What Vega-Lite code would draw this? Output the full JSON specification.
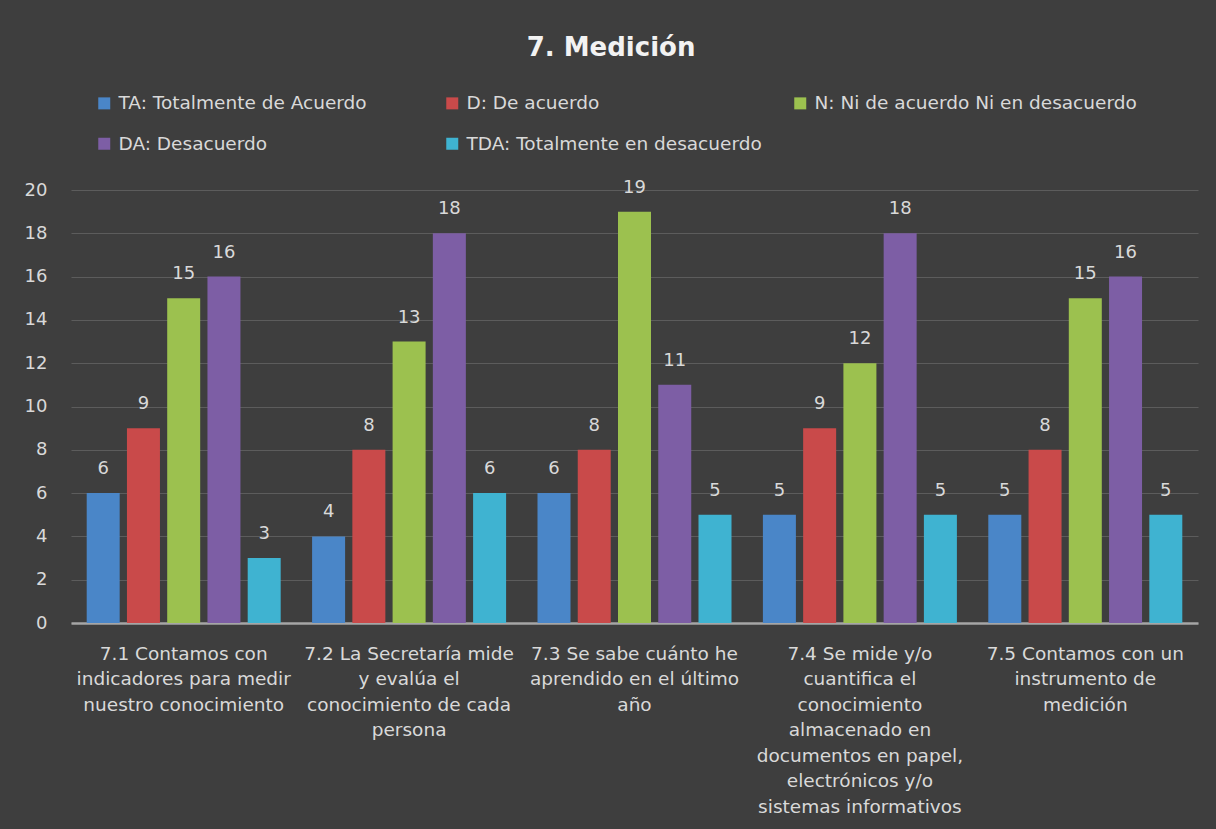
{
  "$schema": "https://vega.github.io/schema/vega-lite/v6.json",
  "width": 1127,
  "height": 433,
  "autosize": {"type": "none"},
  "padding": {"left": 71, "top": 190, "right": 18, "bottom": 206},
  "background": "#3e3e3e",
  "title": {
    "text": "7. Medición",
    "font": "DejaVu Sans",
    "fontSize": 26,
    "fontWeight": "bold",
    "color": "#f2f2f2",
    "anchor": "middle",
    "frame": "bounds",
    "offset": 33
  },
  "data": {
    "values": [
      {"pregunta": "7.1 Contamos con indicadores para medir nuestro conocimiento", "serie": "TA: Totalmente de Acuerdo", "valor": 6},
      {"pregunta": "7.1 Contamos con indicadores para medir nuestro conocimiento", "serie": "D: De acuerdo", "valor": 9},
      {"pregunta": "7.1 Contamos con indicadores para medir nuestro conocimiento", "serie": "N: Ni de acuerdo Ni en desacuerdo", "valor": 15},
      {"pregunta": "7.1 Contamos con indicadores para medir nuestro conocimiento", "serie": "DA: Desacuerdo", "valor": 16},
      {"pregunta": "7.1 Contamos con indicadores para medir nuestro conocimiento", "serie": "TDA: Totalmente en desacuerdo", "valor": 3},
      {"pregunta": "7.2 La Secretaría mide y evalúa el conocimiento de cada persona", "serie": "TA: Totalmente de Acuerdo", "valor": 4},
      {"pregunta": "7.2 La Secretaría mide y evalúa el conocimiento de cada persona", "serie": "D: De acuerdo", "valor": 8},
      {"pregunta": "7.2 La Secretaría mide y evalúa el conocimiento de cada persona", "serie": "N: Ni de acuerdo Ni en desacuerdo", "valor": 13},
      {"pregunta": "7.2 La Secretaría mide y evalúa el conocimiento de cada persona", "serie": "DA: Desacuerdo", "valor": 18},
      {"pregunta": "7.2 La Secretaría mide y evalúa el conocimiento de cada persona", "serie": "TDA: Totalmente en desacuerdo", "valor": 6},
      {"pregunta": "7.3 Se sabe cuánto he aprendido en el último año", "serie": "TA: Totalmente de Acuerdo", "valor": 6},
      {"pregunta": "7.3 Se sabe cuánto he aprendido en el último año", "serie": "D: De acuerdo", "valor": 8},
      {"pregunta": "7.3 Se sabe cuánto he aprendido en el último año", "serie": "N: Ni de acuerdo Ni en desacuerdo", "valor": 19},
      {"pregunta": "7.3 Se sabe cuánto he aprendido en el último año", "serie": "DA: Desacuerdo", "valor": 11},
      {"pregunta": "7.3 Se sabe cuánto he aprendido en el último año", "serie": "TDA: Totalmente en desacuerdo", "valor": 5},
      {"pregunta": "7.4 Se mide y/o cuantifica el conocimiento almacenado en documentos en papel, electrónicos y/o sistemas informativos", "serie": "TA: Totalmente de Acuerdo", "valor": 5},
      {"pregunta": "7.4 Se mide y/o cuantifica el conocimiento almacenado en documentos en papel, electrónicos y/o sistemas informativos", "serie": "D: De acuerdo", "valor": 9},
      {"pregunta": "7.4 Se mide y/o cuantifica el conocimiento almacenado en documentos en papel, electrónicos y/o sistemas informativos", "serie": "N: Ni de acuerdo Ni en desacuerdo", "valor": 12},
      {"pregunta": "7.4 Se mide y/o cuantifica el conocimiento almacenado en documentos en papel, electrónicos y/o sistemas informativos", "serie": "DA: Desacuerdo", "valor": 18},
      {"pregunta": "7.4 Se mide y/o cuantifica el conocimiento almacenado en documentos en papel, electrónicos y/o sistemas informativos", "serie": "TDA: Totalmente en desacuerdo", "valor": 5},
      {"pregunta": "7.5 Contamos con un instrumento de medición", "serie": "TA: Totalmente de Acuerdo", "valor": 5},
      {"pregunta": "7.5 Contamos con un instrumento de medición", "serie": "D: De acuerdo", "valor": 8},
      {"pregunta": "7.5 Contamos con un instrumento de medición", "serie": "N: Ni de acuerdo Ni en desacuerdo", "valor": 15},
      {"pregunta": "7.5 Contamos con un instrumento de medición", "serie": "DA: Desacuerdo", "valor": 16},
      {"pregunta": "7.5 Contamos con un instrumento de medición", "serie": "TDA: Totalmente en desacuerdo", "valor": 5}
    ]
  },
  "encoding": {
    "x": {
      "field": "pregunta",
      "type": "nominal",
      "sort": null,
      "scale": {"paddingInner": 0, "paddingOuter": 0},
      "axis": {
        "title": null,
        "labelAngle": 0,
        "labelFont": "DejaVu Sans",
        "labelFontSize": 18.5,
        "labelColor": "#d9d9d9",
        "labelLineHeight": 25.5,
        "labelPadding": 21,
        "labelLimit": 300,
        "ticks": false,
        "grid": false,
        "domainColor": "#a6a6a6",
        "domainWidth": 2.5,
        "labelExpr": "slice(datum.value,0,3)=='7.1' ? ['7.1 Contamos con','indicadores para medir','nuestro conocimiento'] : slice(datum.value,0,3)=='7.2' ? ['7.2 La Secretaría mide','y evalúa el','conocimiento de cada','persona'] : slice(datum.value,0,3)=='7.3' ? ['7.3 Se sabe cuánto he','aprendido en el último','año'] : slice(datum.value,0,3)=='7.4' ? ['7.4 Se mide y/o','cuantifica el','conocimiento','almacenado en','documentos en papel,','electrónicos y/o','sistemas informativos'] : ['7.5 Contamos con un','instrumento de','medición']"
      }
    },
    "xOffset": {
      "field": "serie",
      "type": "nominal",
      "sort": ["TA: Totalmente de Acuerdo", "D: De acuerdo", "N: Ni de acuerdo Ni en desacuerdo", "DA: Desacuerdo", "TDA: Totalmente en desacuerdo"],
      "scale": {"paddingInner": 0.18, "paddingOuter": 0.39}
    },
    "y": {
      "field": "valor",
      "type": "quantitative",
      "scale": {"domain": [0, 20], "nice": false},
      "axis": {
        "title": null,
        "values": [0, 2, 4, 6, 8, 10, 12, 14, 16, 18, 20],
        "grid": true,
        "gridColor": "#5c5c5c",
        "gridWidth": 1,
        "domain": false,
        "ticks": false,
        "labelFont": "DejaVu Sans",
        "labelFontSize": 18,
        "labelColor": "#d9d9d9",
        "labelPadding": 24
      }
    },
    "color": {
      "field": "serie",
      "type": "nominal",
      "sort": ["TA: Totalmente de Acuerdo", "D: De acuerdo", "N: Ni de acuerdo Ni en desacuerdo", "DA: Desacuerdo", "TDA: Totalmente en desacuerdo"],
      "scale": {"range": ["#4a86c8", "#c94a4a", "#9cc14f", "#7d5ea5", "#3fb3d1"]},
      "legend": {
        "title": null,
        "orient": "none",
        "legendX": 24,
        "legendY": -96,
        "direction": "horizontal",
        "columns": 3,
        "gridAlign": "all",
        "columnPadding": 2,
        "rowPadding": 21.5,
        "padding": 0,
        "symbolType": "square",
        "symbolSize": 144,
        "symbolStrokeWidth": 0,
        "labelFont": "DejaVu Sans",
        "labelFontSize": 18.5,
        "labelColor": "#d9d9d9",
        "labelOffset": 5,
        "labelLimit": 400
      }
    }
  },
  "layer": [
    {"mark": {"type": "bar"}},
    {
      "mark": {"type": "text", "baseline": "alphabetic", "dy": -19, "font": "DejaVu Sans", "fontSize": 18, "color": "#d9d9d9"},
      "encoding": {"text": {"field": "valor", "type": "quantitative"}, "color": {"value": "#d9d9d9"}}
    }
  ],
  "config": {"view": {"stroke": null}}
}
